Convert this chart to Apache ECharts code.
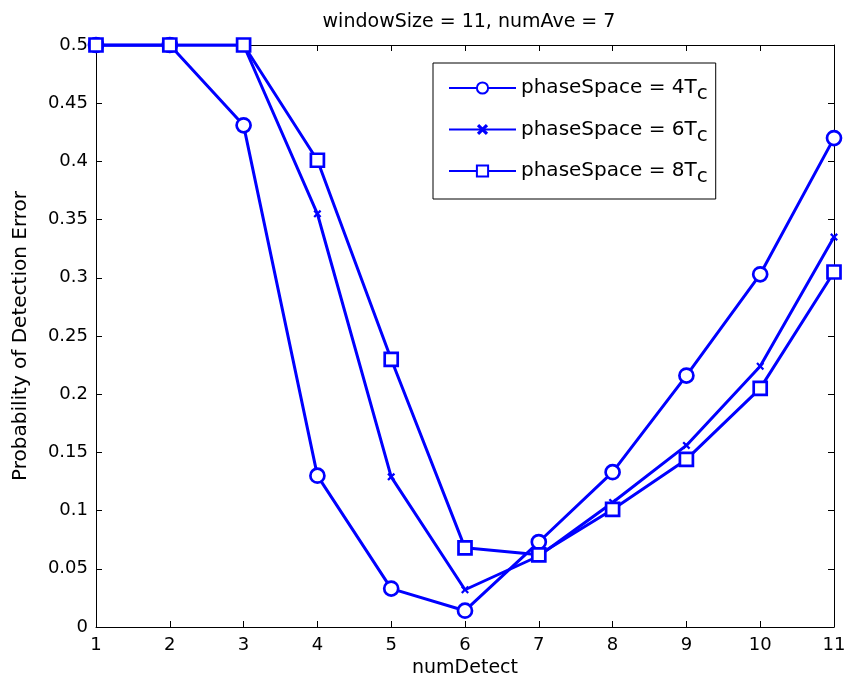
<!DOCTYPE html>
<html>
<head>
<meta charset="utf-8">
<script src="https://cdn.jsdelivr.net/npm/echarts@6/dist/echarts.min.js"></script>
<style>
  html, body { margin: 0; padding: 0; background: #fff; }
  #main { width: 846px; height: 686px; }
</style>
</head>
<body>
<div id="main"></div>
<script>
// values
var numDetect = [1, 2, 3, 4, 5, 6, 7, 8, 9, 10, 11]
var ps4 = [0.5, 0.5, 0.431, 0.130, 0.033, 0.014, 0.073, 0.133, 0.216, 0.303, 0.420]
var ps6 = [0.5, 0.5, 0.5, 0.355, 0.129, 0.032, 0.061, 0.107, 0.156, 0.224, 0.335]
var ps8 = [0.5, 0.5, 0.5, 0.401, 0.230, 0.068, 0.062, 0.101, 0.144, 0.205, 0.305]
var seriesNames = ['phaseSpace = 4T{sub|c}', 'phaseSpace = 6T{sub|c}', 'phaseSpace = 8T{sub|c}']

var blue = '#0000ff'
// chunky x marker like matlab's 'x'
var xMark = 'path://M0,2L2,0L5,3L8,0L10,2L7,5L10,8L8,10L5,7L2,10L0,8L3,5Z'
var font = 'DejaVu Sans, sans-serif'

function pairs(ys) {
  return numDetect.map(function (x, i) { return [x, ys[i]] })
}

function lineSeries(name, ys, symbol, size) {
  return {
    name: name,
    type: 'line',
    data: pairs(ys),
    symbol: symbol,
    symbolSize: size,
    showAllSymbol: true,
    lineStyle: { color: blue, width: 3 },
    itemStyle: {
      color: symbol === xMark ? blue : '#fff',
      borderColor: blue,
      borderWidth: symbol === xMark ? 0 : 2.7
    },
    emphasis: { disabled: true },
    animation: false
  }
}

var myChart = echarts.init(document.getElementById('main'))

var tickCommon = {
  axisLine: { show: true, onZero: false, lineStyle: { color: '#000', width: 1 } },
  axisTick: { show: true, inside: true, length: 6, lineStyle: { color: '#000' } },
  splitLine: { show: false }
}

myChart.setOption({
  textStyle: { fontFamily: font },
  title: {
    text: 'windowSize = 11, numAve = 7',
    left: 464,
    top: 8,
    textAlign: 'center',
    textStyle: { fontSize: 19, fontWeight: 'normal', color: '#000', fontFamily: font }
  },
  legend: {
    left: 433,
    top: 63,
    orient: 'vertical',
    backgroundColor: '#fff',
    borderColor: '#000',
    borderWidth: 1,
    padding: [15, 8, 12, 15],
    itemWidth: 67,
    itemHeight: 14,
    itemGap: 15.5,
    selectedMode: false,
    data: seriesNames,
    textStyle: {
      fontSize: 20,
      color: '#000',
      fontFamily: font,
      rich: {
        sub: { fontSize: 20, verticalAlign: 'bottom', padding: [12, 0, 0, 0], color: '#000', fontFamily: font }
      }
    }
  },
  grid: { left: 96, right: 12, top: 45, bottom: 59, outerBoundsMode: 'none' },
  xAxis: [
    Object.assign({
      type: 'value',
      min: 1,
      max: 11,
      interval: 1,
      name: 'numDetect',
      nameLocation: 'middle',
      nameGap: 27,
      nameTextStyle: { fontSize: 19, color: '#000', fontFamily: font },
      axisLabel: { fontSize: 18, color: '#000', margin: 9, fontFamily: font }
    }, tickCommon),
    Object.assign({
      type: 'value',
      position: 'top',
      min: 1,
      max: 11,
      interval: 1,
      axisLabel: { show: false }
    }, tickCommon)
  ],
  yAxis: [
    Object.assign({
      type: 'value',
      min: 0,
      max: 0.5,
      interval: 0.05,
      name: 'Probability of Detection Error',
      nameLocation: 'middle',
      nameGap: 65,
      nameTextStyle: { fontSize: 20, color: '#000', fontFamily: font },
      axisLabel: { fontSize: 18, color: '#000', margin: 8, fontFamily: font }
    }, tickCommon),
    Object.assign({
      type: 'value',
      position: 'right',
      min: 0,
      max: 0.5,
      interval: 0.05,
      axisLabel: { show: false }
    }, tickCommon)
  ],
  series: [
    lineSeries(seriesNames[0], ps4, 'circle', 14),
    lineSeries(seriesNames[1], ps6, xMark, 8),
    lineSeries(seriesNames[2], ps8, 'rect', 13)
  ]
})
</script>
</body>
</html>
